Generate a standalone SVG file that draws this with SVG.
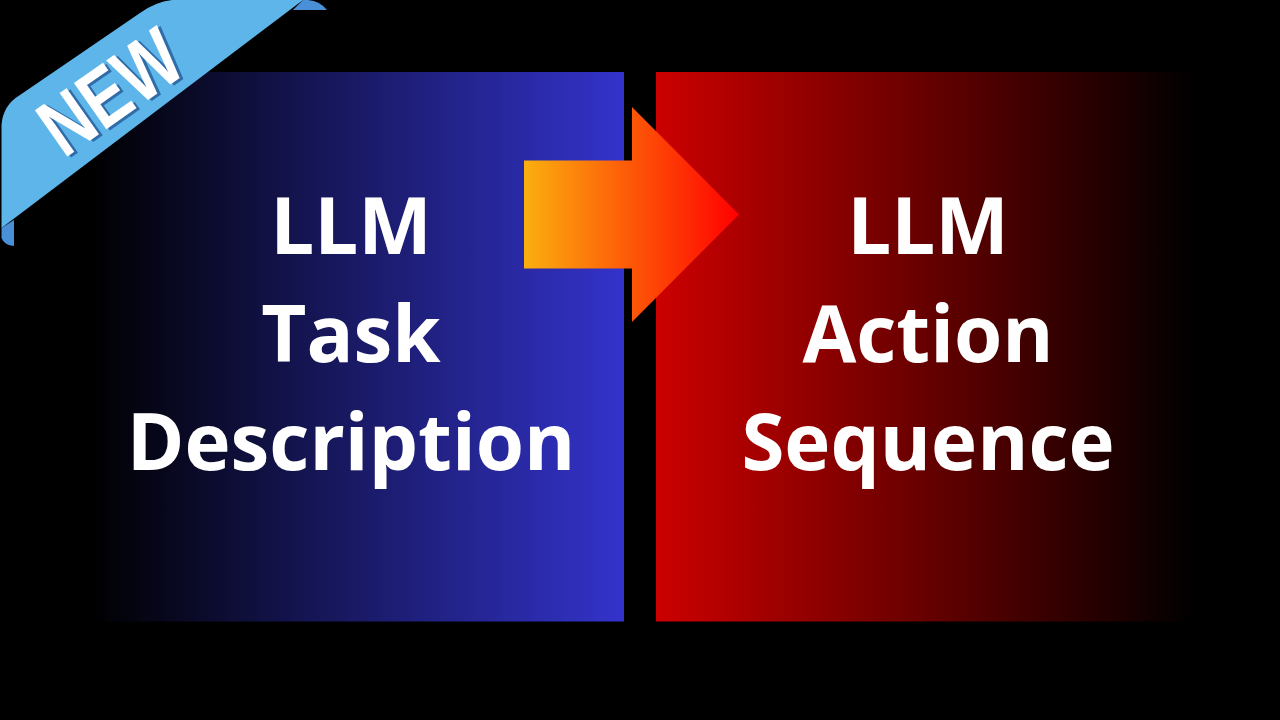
<svg xmlns="http://www.w3.org/2000/svg" width="1280" height="720" viewBox="0 0 1280 720">
<style>
.t{font-family:"Open Sans","Liberation Sans",sans-serif;font-weight:700;font-size:78px;fill:#fff;text-anchor:middle}
.n{font-family:"Liberation Sans",Arial,sans-serif;font-weight:700;font-size:82px;text-anchor:middle}
</style>
<defs>
<linearGradient id="b" gradientUnits="userSpaceOnUse" x1="90" y1="0" x2="624" y2="0"><stop offset="0" stop-color="#000"/><stop offset="1" stop-color="#3333cc"/></linearGradient>
<linearGradient id="r" gradientUnits="userSpaceOnUse" x1="656" y1="0" x2="1195" y2="0"><stop offset="0" stop-color="#cc0000"/><stop offset="1" stop-color="#000"/></linearGradient>
<linearGradient id="a" gradientUnits="userSpaceOnUse" x1="524" y1="0" x2="739" y2="0"><stop offset="0" stop-color="#fbaf0f"/><stop offset="1" stop-color="#ff0000"/></linearGradient>
</defs>
<rect width="1280" height="720" fill="#000"/>
<g id="task">
<rect x="90" y="72" width="534" height="549.500" fill="url(#b)"/>
<text class="t" x="351" y="254">LLM</text>
<text class="t" x="351" y="362">Task</text>
<text class="t" x="351" y="470">Description</text>
</g>
<g id="action">
<rect x="656" y="72" width="539" height="549.500" fill="url(#r)"/>
<text class="t" x="928" y="254">LLM</text>
<text class="t" x="928" y="362">Action</text>
<text class="t" x="928" y="470">Sequence</text>
</g>
<g id="connectors">
<polygon points="524,160.500 632,160.500 632,107 739,214.500 632,322 632,268.500 524,268.500" fill="url(#a)"/>
</g>
<g id="ribbon">
<path d="M293,10 L303,0 H308 Q320,1 327,10 Z" fill="#4a90d9"/>
<path d="M1.500,228 L14,220 L14,246 Q4,245 1.500,238 Z" fill="#4a90d9"/>
<path d="M1.500,228 V125 Q3,105 20,95 L140,13 Q155,2 172,0 H303 Z" fill="#5eb5ea"/>
<g transform="translate(61,161) rotate(-35) scale(.8,1)">
<text class="n" x="100" y="1" fill="#2f6ca8" transform="translate(3,2)">NEW</text>
<text class="n" x="100" y="0" fill="#fff">NEW</text>
</g>
</g>
</svg>
